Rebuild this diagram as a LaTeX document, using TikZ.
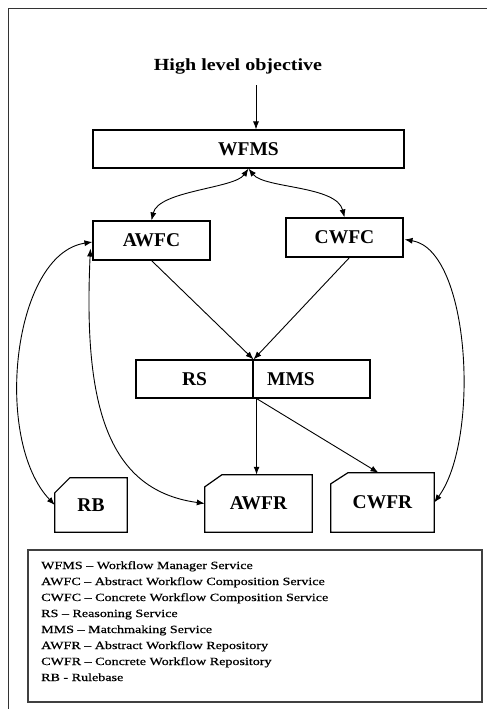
\documentclass[tikz,border=0pt]{standalone}
\usepackage{fontspec}
\setmainfont{Liberation Serif}
\newfontfamily\legfont{Liberation Serif}[FakeStretch=1.28,FakeBold=0.6]
\newfontfamily\hlofont{Liberation Serif}[FakeStretch=1.18]
\usetikzlibrary{arrows.meta,calc}
\begin{document}
\begin{tikzpicture}[x=1pt,y=-1pt,
  boxnode/.style={draw, line width=1.1pt, inner sep=0pt, font=\bfseries\fontsize{19.5}{20}\selectfont},
  repo/.style={inner sep=0pt, font=\bfseries\fontsize{19.5}{20}\selectfont},
  repoline/.style={line width=1.2pt},
  conn/.style={line width=0.9pt, -{Latex[length=8pt,width=6pt]}},
  biconn/.style={line width=0.9pt, {Latex[length=8pt,width=6pt]}-{Latex[length=8pt,width=6pt]}},
  legtext/.style={anchor=base west, inner sep=0pt, font=\legfont\fontsize{11}{13}\selectfont}]
\useasboundingbox (0,0) rectangle (487,709);
\fill[white] (0,0) rectangle (487,709);
\draw[line width=1pt, black!80] (8,709) -- (8,9) -- (487,9);

% title
\node[inner sep=0pt, font=\hlofont\bfseries\fontsize{17}{18}\selectfont] (hlo) at (238,66) {High level objective};
\coordinate (hloarrow) at (256,85);

% boxes
\node[boxnode, minimum width=311pt, minimum height=38pt] (wfms) at (248.5,149) {WFMS};
\node[boxnode, minimum width=117pt, minimum height=39pt] (awfc) at (151.5,240.5) {AWFC};
\node[boxnode, minimum width=117pt, minimum height=39pt] (cwfc) at (344.5,237.5) {CWFC};
\node[boxnode, minimum width=117pt, minimum height=38pt] (rs) at (194.5,379) {RS};
\node[boxnode, minimum width=117pt, minimum height=38pt] (mms) at (311.5,379) {};
\node[repo] (mmslabel) at (291,379) {MMS};

% repositories (cut corner)
\node[repo, minimum width=72pt, minimum height=54pt] (rb) at (91,505) {RB};
\node[repo, minimum width=107pt, minimum height=57pt] (awfr) at (258.5,503.5) {AWFR};
\node[repo, minimum width=103pt, minimum height=59pt] (cwfr) at (382.5,502.5) {CWFR};
\draw[repoline] (rb.south west) -- ($(rb.north west)+(0,15)$) -- ($(rb.north west)+(15,0)$) -- (rb.north east) -- (rb.south east) -- cycle;
\draw[repoline] (awfr.south west) -- ($(awfr.north west)+(0,12)$) -- ($(awfr.north west)+(17,0)$) -- (awfr.north east) -- (awfr.south east) -- cycle;
\draw[repoline] (cwfr.south west) -- ($(cwfr.north west)+(0,11)$) -- ($(cwfr.north west)+(17,0)$) -- (cwfr.north east) -- (cwfr.south east) -- cycle;

% legend
\node[draw=black!75, line width=1.8pt, minimum width=454pt, minimum height=152pt, inner sep=0pt] (legend) at (255,626) {};
\foreach \t [count=\i] in {{WFMS – Workflow Manager Service},
  {AWFC – Abstract Workflow Composition Service},
  {CWFC – Concrete Workflow Composition Service},
  {RS – Reasoning Service},
  {MMS – Matchmaking Service},
  {AWFR – Abstract Workflow Repository},
  {CWFR – Concrete Workflow Repository},
  {RB - Rulebase}}
  \node[legtext] (leg\i) at (41,{569+16*(\i-1)}) {\t};

% connectors
\draw[conn] (hloarrow) -- (hloarrow |- wfms.north);
\draw[biconn] (wfms.south) .. controls +(-14,20) and +(7,-30) .. (awfc.north);
\draw[biconn] (wfms.south) .. controls +(16,20) and +(-8,-32) .. (cwfc.north);
\draw[conn] (awfc.south) -- (rs.north east);
\draw[conn] ($(cwfc.south)+(5,0)$) -- (rs.north east);
\coordinate (mmsout) at ($(rs.south east)+(3,0)$);
\draw[conn, line width=1.3pt] (mmsout) -- (mmsout |- awfr.north);
\draw[conn] (mmsout) -- ($(cwfr.north)+(-4,0)$);
\draw[biconn] ($(awfc.west)+(0,1.5)$) .. controls +(-80,12) and +(-62,-65) .. (rb.west);
\draw[biconn] ($(awfc.west)+(-2,8)$) .. controls +(-7,151.5) and +(-100,-13.5) .. (awfr.west);
\draw[biconn] ($(cwfc.east)+(1,2)$) .. controls +(66,10.5) and +(46,-62.5) .. (cwfr.east);
\end{tikzpicture}
\end{document}
